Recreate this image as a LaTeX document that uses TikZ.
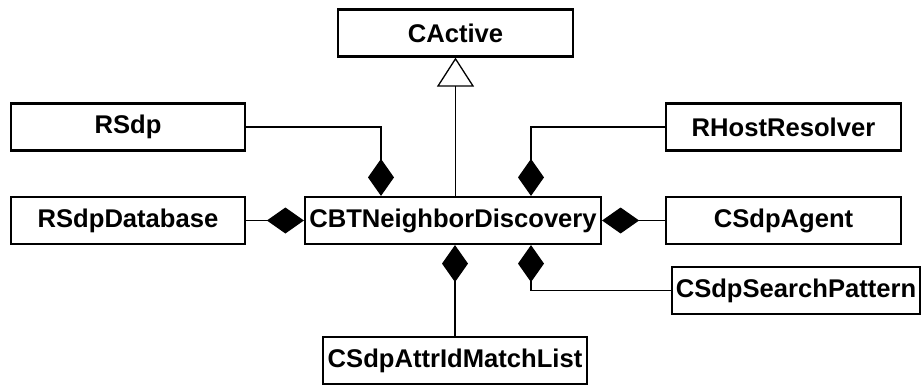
\documentclass[tikz,border=0pt]{standalone}
\usepackage{fontspec}
\setmainfont{Liberation Sans}
\usetikzlibrary{arrows.meta}
\tikzset{
  cls/.style={draw, line width=2.2pt, minimum height=47pt, inner sep=0pt,
    font=\fontsize{25.6}{30}\selectfont\bfseries, fill=white},
  comp/.style={line width=1.3pt, -{Diamond[length=37pt, width=26pt, fill=black]}},
  inherit/.style={line width=1.3pt, -{Triangle[open, length=29pt, width=37pt, fill=white]}}
}
\begin{document}
\begin{tikzpicture}[x=1pt, y=-1pt]
  \fill[white] (0,0) rectangle (924,385);
  \useasboundingbox (0,0) rectangle (924,385);

  % classes
  \node[cls, minimum width=235pt] (active)  at (455.5,33)  {CActive};
  \node[cls, minimum width=234pt] (rsdp)    at (128,127)   {RSdp};
  \node[cls, minimum width=234pt] (rsdpdb)  at (128,220.5) {RSdpDatabase};
  \node[cls, minimum width=296pt] (nd)      at (453,220.5) {CBTNeighborDiscovery};
  \node[cls, minimum width=235pt] (host)    at (783.5,127) {RHostResolver};
  \node[cls, minimum width=235pt] (agent)   at (783.5,220.5) {CSdpAgent};
  \node[cls, minimum width=248pt] (search)  at (796,290.5) {CSdpSearchPattern};
  \node[cls, minimum width=264pt] (attr)    at (455,360.5) {CSdpAttrIdMatchList};

  % generalisation
  \draw[inherit] (active.south |- nd.north) -- (active.south);

  % compositions
  \draw[comp] (rsdp.east) -| ([xshift=-72pt]nd.north);
  \draw[comp] (host.west) -| ([xshift=78pt]nd.north);
  \draw[comp] (rsdpdb.east) -- (nd.west);
  \draw[comp] (agent.west) -- (nd.east);
  \draw[comp] (search.west) -| ([xshift=78pt]nd.south);
  \draw[comp] (attr.north) -- (attr.north |- nd.south);
\end{tikzpicture}
\end{document}
